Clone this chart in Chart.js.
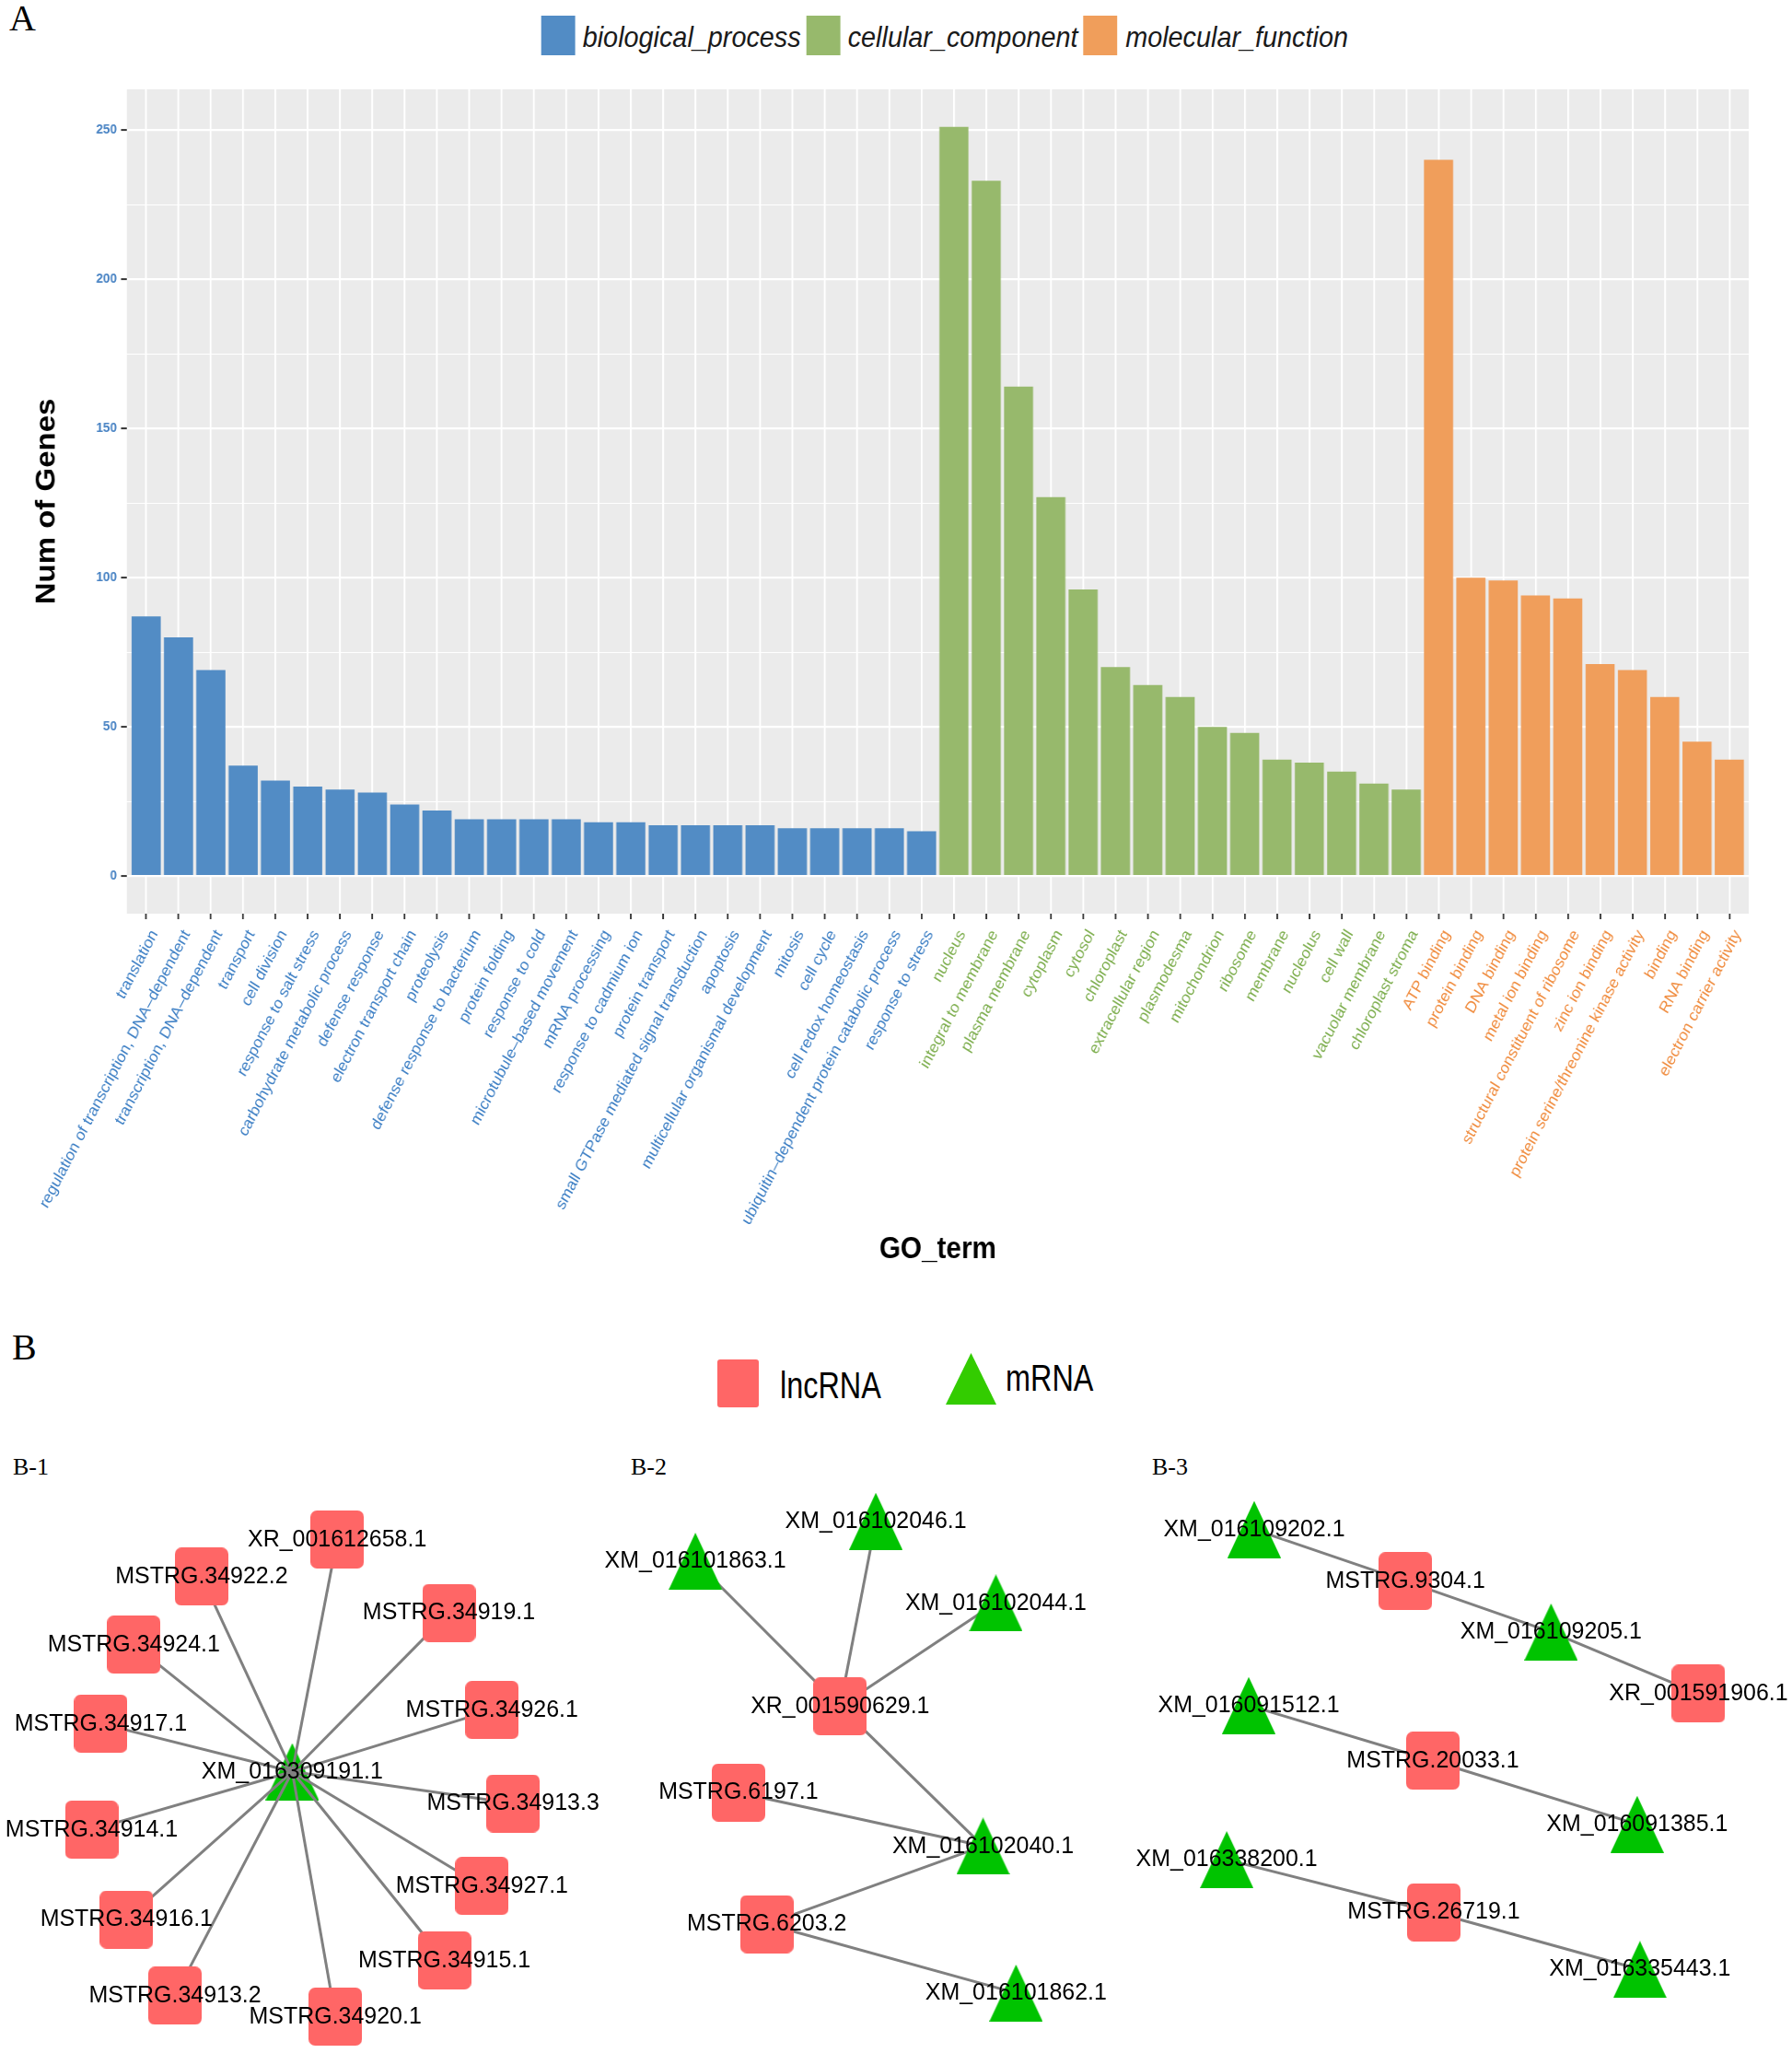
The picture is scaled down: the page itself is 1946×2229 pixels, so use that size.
<!DOCTYPE html>
<html>
<head>
<meta charset="utf-8">
<title>GO terms and lncRNA-mRNA networks</title>
<script src="https://cdn.jsdelivr.net/npm/chart.js@4.4.1/dist/chart.umd.min.js"></script>
<style>
  html, body { margin: 0; padding: 0; background: #fff; }
  body { position: relative; width: 1946px; height: 2229px; overflow: hidden; font-family: "Liberation Sans", Arial, sans-serif; color: #000; }
  .abs { position: absolute; white-space: nowrap; line-height: 1; }
  .serif { font-family: "Liberation Serif", "Times New Roman", serif; }
  /* panel A is slightly compressed horizontally, like the original figure */
  .squeeze { position: absolute; left: 0; top: 0; transform: scaleX(0.9); transform-origin: 0 0; }
  .key { position: absolute; width: 41px; height: 43px; top: 17px; }
  .keytxt { position: absolute; top: 24px; font-size: 32px; font-style: italic; line-height: 1; white-space: nowrap; color: #1a1a1a; }
</style>
</head>
<body>

<div class="abs serif" style="left:10px; top:0px; font-size:40px;">A</div>

<div class="squeeze" style="width:2162px; height:80px;">
  <div class="key" style="left:653px; background:#528CC5;"></div>
  <div class="keytxt" style="left:703px;">biological_process</div>
  <div class="key" style="left:973px; background:#97B96C;"></div>
  <div class="keytxt" style="left:1023px;">cellular_component</div>
  <div class="key" style="left:1307px; background:#F09E5B;"></div>
  <div class="keytxt" style="left:1358px;">molecular_function</div>
</div>

<canvas id="chartA" class="squeeze" width="2162" height="1420"></canvas>

<div class="abs serif" style="left:13px; top:1443px; font-size:40px;">B</div>

<div class="abs" style="left:779px; top:1476px; width:45px; height:52px; background:#FF6666; border-radius:3px;"></div>
<div class="abs" style="left:847px; top:1484px; font-size:40px; transform:scaleX(0.81); transform-origin:0 0;">lncRNA</div>
<div class="abs" style="left:1027px; top:1469px; width:55px; height:56px; background:#33CC00; clip-path:polygon(50% 0, 100% 100%, 0 100%);"></div>
<div class="abs" style="left:1092px; top:1476px; font-size:40px; transform:scaleX(0.81); transform-origin:0 0;">mRNA</div>

<div class="abs serif" style="left:14px; top:1580px; font-size:26px;">B-1</div>
<div class="abs serif" style="left:685px; top:1580px; font-size:26px;">B-2</div>
<div class="abs serif" style="left:1251px; top:1580px; font-size:26px;">B-3</div>

<canvas id="chartB" style="position:absolute; left:0; top:1560px;" width="1946" height="669"></canvas>

<script>
// ---- Panel A: GO term counts ----
const bpTerms = ['translation', 'regulation of transcription, DNA–dependent', 'transcription, DNA–dependent',
  'transport', 'cell division', 'response to salt stress', 'carbohydrate metabolic process', 'defense response',
  'electron transport chain', 'proteolysis', 'defense response to bacterium', 'protein folding', 'response to cold',
  'microtubule–based movement', 'mRNA processing', 'response to cadmium ion', 'protein transport',
  'small GTPase mediated signal transduction', 'apoptosis', 'multicellular organismal development', 'mitosis',
  'cell cycle', 'cell redox homeostasis', 'ubiquitin–dependent protein catabolic process', 'response to stress'];
const bpCounts = [87, 80, 69, 37, 32, 30, 29, 28, 24, 22, 19, 19, 19, 19, 18, 18, 17, 17, 17, 17, 16, 16, 16, 16, 15];

const ccTerms = ['nucleus', 'integral to membrane', 'plasma membrane', 'cytoplasm', 'cytosol', 'chloroplast',
  'extracellular region', 'plasmodesma', 'mitochondrion', 'ribosome', 'membrane', 'nucleolus', 'cell wall',
  'vacuolar membrane', 'chloroplast stroma'];
const ccCounts = [251, 233, 164, 127, 96, 70, 64, 60, 50, 48, 39, 38, 35, 31, 29];

const mfTerms = ['ATP binding', 'protein binding', 'DNA binding', 'metal ion binding',
  'structural constituent of ribosome', 'zinc ion binding', 'protein serine/threonine kinase activity',
  'binding', 'RNA binding', 'electron carrier activity'];
const mfCounts = [240, 100, 99, 94, 93, 71, 69, 60, 45, 39];

const yTickLabels = [0, 50, 100, 150, 200, 250];

// ---- Panel B: lncRNA / mRNA networks (layout coordinates, y downwards) ----
const net1Lnc = [
  ['XR_001612658.1', 36.3, 10.8], ['MSTRG.34922.2', 21.5, 14.9], ['MSTRG.34924.1', 14.1, 22.4],
  ['MSTRG.34917.1', 10.5, 31.1], ['MSTRG.34914.1', 9.5, 42.8], ['MSTRG.34916.1', 13.3, 52.7],
  ['MSTRG.34913.2', 18.6, 61.1], ['MSTRG.34920.1', 36.1, 63.4], ['MSTRG.34915.1', 48.0, 57.2],
  ['MSTRG.34927.1', 52.1, 49.0], ['MSTRG.34913.3', 55.5, 39.9], ['MSTRG.34926.1', 53.2, 29.6],
  ['MSTRG.34919.1', 48.5, 18.9]];
const net1Mrna = [['XM_016309191.1', 31.4, 36.4]];
const net1Edges = [
  ['XM_016309191.1', 'XR_001612658.1'], ['XM_016309191.1', 'MSTRG.34922.2'], ['XM_016309191.1', 'MSTRG.34924.1'],
  ['XM_016309191.1', 'MSTRG.34917.1'], ['XM_016309191.1', 'MSTRG.34914.1'], ['XM_016309191.1', 'MSTRG.34916.1'],
  ['XM_016309191.1', 'MSTRG.34913.2'], ['XM_016309191.1', 'MSTRG.34920.1'], ['XM_016309191.1', 'MSTRG.34915.1'],
  ['XM_016309191.1', 'MSTRG.34927.1'], ['XM_016309191.1', 'MSTRG.34913.3'], ['XM_016309191.1', 'MSTRG.34926.1'],
  ['XM_016309191.1', 'MSTRG.34919.1']];

const net2Lnc = [['XR_001590629.1', 91.2, 29.2], ['MSTRG.6197.1', 80.1, 38.7], ['MSTRG.6203.2', 83.2, 53.2]];
const net2Mrna = [
  ['XM_016101863.1', 75.4, 13.2], ['XM_016102046.1', 95.1, 8.8], ['XM_016102044.1', 108.2, 17.8],
  ['XM_016102040.1', 106.8, 44.6], ['XM_016101862.1', 110.4, 60.8]];
const net2Edges = [
  ['XR_001590629.1', 'XM_016101863.1'], ['XR_001590629.1', 'XM_016102046.1'], ['XR_001590629.1', 'XM_016102044.1'],
  ['XR_001590629.1', 'XM_016102040.1'], ['MSTRG.6197.1', 'XM_016102040.1'], ['MSTRG.6203.2', 'XM_016102040.1'],
  ['MSTRG.6203.2', 'XM_016101862.1']];

const net3Lnc = [['MSTRG.9304.1', 152.9, 15.4], ['XR_001591906.1', 184.9, 27.8],
  ['MSTRG.20033.1', 155.9, 35.2], ['MSTRG.26719.1', 156.0, 51.9]];
const net3Mrna = [
  ['XM_016109202.1', 136.4, 9.7], ['XM_016109205.1', 168.8, 21.0], ['XM_016091512.1', 135.8, 29.1],
  ['XM_016091385.1', 178.2, 42.2], ['XM_016338200.1', 133.4, 46.1], ['XM_016335443.1', 178.5, 58.2]];
const net3Edges = [
  ['MSTRG.9304.1', 'XM_016109202.1'], ['MSTRG.9304.1', 'XM_016109205.1'], ['XR_001591906.1', 'XM_016109205.1'],
  ['MSTRG.20033.1', 'XM_016091512.1'], ['MSTRG.20033.1', 'XM_016091385.1'],
  ['MSTRG.26719.1', 'XM_016338200.1'], ['MSTRG.26719.1', 'XM_016335443.1']];

const FONT = '"Liberation Sans", Arial, sans-serif';
const barColors = ['#528CC5', '#97B96C', '#F09E5B'];
const textColors = ['#3F80C5', '#7FAF50', '#F08D40'];

// gray ggplot panel behind the bars
const panelBg = {
  id: 'panelBg',
  beforeDraw(chart) {
    const a = chart.chartArea;
    const ctx = chart.ctx;
    ctx.save();
    ctx.fillStyle = '#EBEBEB';
    ctx.fillRect(a.left, a.top, a.right - a.left, a.bottom - a.top);
    ctx.restore();
  }
};

const labels = bpTerms.concat(ccTerms, mfTerms);
const nBp = bpTerms.length;
const nCc = ccTerms.length;

function groupOf(i) {
  if (i < nBp) return 0;
  if (i < nBp + nCc) return 1;
  return 2;
}

// bars sit on integer positions of a linear axis (ggplot-style 0.6 expansion at both ends)
function points(values, offset) {
  return values.map((v, i) => ({ x: offset + i, y: v }));
}

new Chart(document.getElementById('chartA'), {
  type: 'bar',
  data: {
    datasets: [
      { label: 'biological_process', data: points(bpCounts, 0), backgroundColor: barColors[0] },
      { label: 'cellular_component', data: points(ccCounts, nBp), backgroundColor: barColors[1] },
      { label: 'molecular_function', data: points(mfCounts, nBp + nCc), backgroundColor: barColors[2] }
    ]
  },
  options: {
    responsive: false,
    animation: false,
    devicePixelRatio: 1,
    layout: { padding: { top: 97, right: 52, left: 0, bottom: 0 } },
    datasets: { bar: { grouped: false, barPercentage: 0.9, categoryPercentage: 1.0 } },
    plugins: { legend: { display: false }, tooltip: { enabled: false } },
    scales: {
      x: {
        type: 'linear',
        offset: false,
        min: -0.6,
        max: labels.length - 0.4,
        border: { display: false },
        grid: { offset: false, color: '#FFFFFF', lineWidth: 2.2, tickColor: '#333333', tickWidth: 2, tickLength: 6 },
        ticks: {
          stepSize: 1,
          includeBounds: false,
          autoSkip: false, minRotation: 60, maxRotation: 60, padding: 8,
          labelOffset: 10,
          font: { family: FONT, size: 18 },
          color: (c) => textColors[groupOf(c.tick ? c.tick.value : c.index)],
          callback: (v) => labels[v]
        },
        title: {
          display: true, text: 'GO_term', color: '#000',
          font: { family: FONT, size: 33, weight: 'bold' },
          padding: { top: 0, bottom: 43 }
        },
        afterFit: (axis) => { axis.height = 428; }
      },
      y: {
        min: -12.6,
        max: 263.6,
        border: { display: false },
        grid: {
          color: '#FFFFFF',
          lineWidth: (c) => (c.tick && yTickLabels.includes(c.tick.value)) ? 2.2 : 1.1,
          tickColor: (c) => (c.tick && yTickLabels.includes(c.tick.value)) ? '#333333' : 'rgba(0,0,0,0)',
          tickWidth: 2,
          tickLength: 7
        },
        ticks: {
          stepSize: 25,
          includeBounds: false,
          padding: 5,
          color: '#4A84C4',
          font: { family: FONT, size: 15, weight: 'bold' },
          callback: (v) => yTickLabels.includes(v) ? String(v) : ''
        },
        title: {
          display: true, text: 'Num of Genes', color: '#000',
          font: { family: FONT, size: 33, weight: 'bold' },
          padding: { top: 37, bottom: 0 }
        },
        afterFit: (axis) => { axis.width = 153; }
      }
    }
  },
  plugins: [panelBg]
});

// ---- network chart ----
function nodeImage(kind) {
  const c = document.createElement('canvas');
  const g = c.getContext('2d');
  if (kind === 'lnc') {
    c.width = 58; c.height = 63;
    const r = 7, w = 58, h = 63;
    g.fillStyle = '#FF6666';
    g.beginPath();
    g.moveTo(r, 0);
    g.arcTo(w, 0, w, h, r);
    g.arcTo(w, h, 0, h, r);
    g.arcTo(0, h, 0, 0, r);
    g.arcTo(0, 0, w, 0, r);
    g.closePath();
    g.fill();
  } else {
    c.width = 58; c.height = 62;
    g.fillStyle = '#00C300';
    g.beginPath();
    g.moveTo(29, 0);
    g.lineTo(58, 62);
    g.lineTo(0, 62);
    g.closePath();
    g.fill();
  }
  return c;
}

const lncNodes = net1Lnc.concat(net2Lnc, net3Lnc);
const allEdges = net1Edges.concat(net2Edges, net3Edges);

const pos = {};
lncNodes.concat(net1Mrna, net2Mrna, net3Mrna).forEach(([name, x, y]) => { pos[name] = { x: x, y: y }; });

const edgeSets = allEdges.map(([a, b]) => ({
  data: [pos[a], pos[b]],
  showLine: true,
  borderColor: '#808080',
  borderWidth: 3,
  pointRadius: 0,
  order: 2
}));

function nodeSet(label, nodes, kind, order) {
  return {
    label: label, isNode: true, order: order,
    data: nodes.map(([name, x, y]) => ({ x: x, y: y, name: name })),
    pointStyle: nodeImage(kind), pointRadius: 4
  };
}

const nodeLabels = {
  id: 'nodeLabels',
  afterDatasetsDraw(chart) {
    const ctx = chart.ctx;
    ctx.save();
    ctx.font = '26px ' + FONT;
    ctx.fillStyle = '#000';
    ctx.textAlign = 'center';
    ctx.textBaseline = 'middle';
    chart.data.datasets.forEach((ds, i) => {
      if (!ds.isNode) return;
      chart.getDatasetMeta(i).data.forEach((pt, j) => {
        ctx.save();
        ctx.translate(pt.x, pt.y);
        ctx.scale(0.96, 1);
        ctx.fillText(ds.data[j].name, 0, 0);
        ctx.restore();
      });
    });
    ctx.restore();
  }
};

new Chart(document.getElementById('chartB'), {
  type: 'scatter',
  data: {
    datasets: [
      nodeSet('lncRNA', lncNodes, 'lnc', 0),
      nodeSet('mRNA', net2Mrna.concat(net3Mrna), 'mrna', 0),
      // the hub of B-1 sits under its many edges
      nodeSet('mRNA hub', net1Mrna, 'mrna', 3)
    ].concat(edgeSets)
  },
  options: {
    responsive: false,
    animation: false,
    devicePixelRatio: 1,
    layout: { padding: 0 },
    plugins: { legend: { display: false }, tooltip: { enabled: false } },
    scales: {
      x: { type: 'linear', min: 0, max: 194.6, display: false },
      y: { type: 'linear', min: 0, max: 66.9, reverse: true, display: false }
    }
  },
  plugins: [nodeLabels]
});
</script>
</body>
</html>
